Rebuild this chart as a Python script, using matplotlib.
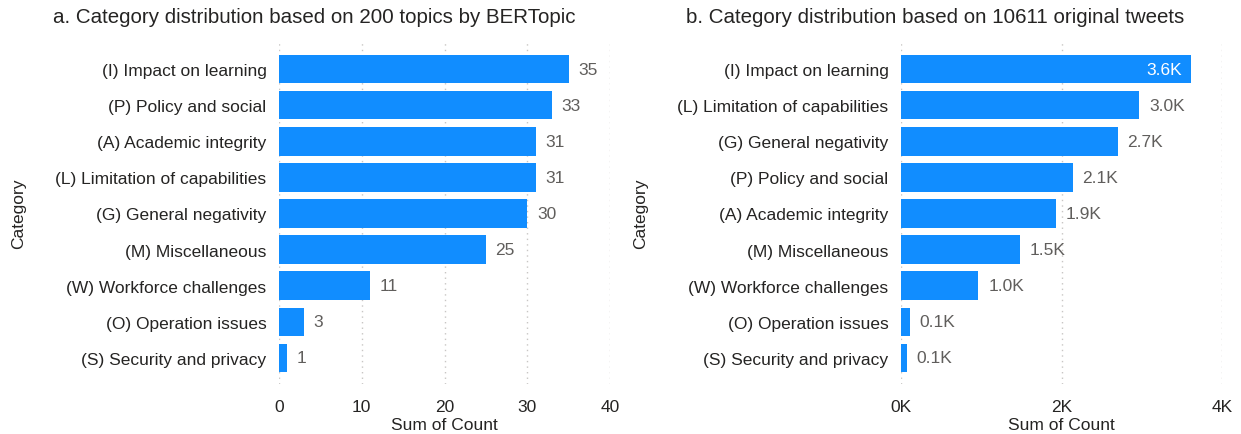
import matplotlib.pyplot as plt

plt.rcParams['font.family'] = ['Liberation Sans', 'DejaVu Sans']

# panel a: topics by BERTopic
cats_a = ['(I) Impact on learning', '(P) Policy and social', '(A) Academic integrity',
          '(L) Limitation of capabilities', '(G) General negativity', '(M) Miscellaneous',
          '(W) Workforce challenges', '(O) Operation issues', '(S) Security and privacy']
vals_a = [35, 33, 31, 31, 30, 25, 11, 3, 1]

# panel b: original tweets
cats_b = ['(I) Impact on learning', '(L) Limitation of capabilities', '(G) General negativity',
          '(P) Policy and social', '(A) Academic integrity', '(M) Miscellaneous',
          '(W) Workforce challenges', '(O) Operation issues', '(S) Security and privacy']
vals_b = [3610, 2970, 2700, 2140, 1930, 1480, 965, 110, 70]

bar_color = '#118DFF'
text_dark = '#252423'
text_gray = '#605E5C'
fs = 12.5

fig = plt.figure(figsize=(12.41, 4.35), dpi=100)
ax1 = fig.add_axes([279 / 1241, 0.115, 331 / 1241, 0.7885])
ax2 = fig.add_axes([901 / 1241, 0.115, 321 / 1241, 0.7885])


def k_fmt(v):
    return f'{v / 1000:.1f}K'


def draw(ax, cats, vals, xmax, ticks, ticklabels, labels, title, inside_first=False):
    pos = list(range(len(cats)))
    ax.barh(pos, vals, height=0.79, color=bar_color, zorder=2)
    ax.set_ylim(8.72, -0.776)
    ax.set_xlim(0, xmax)
    ax.set_yticks(pos)
    ax.set_yticklabels(cats, fontsize=fs, color=text_dark)
    ax.set_xticks(ticks)
    ax.set_xticklabels(ticklabels, fontsize=fs, color=text_dark)
    ax.tick_params(length=0)
    ax.tick_params(axis='x', pad=11)
    ax.tick_params(axis='y', pad=9)
    for s in ax.spines.values():
        s.set_visible(False)
    ax.grid(axis='x', linestyle=(0, (1, 3)), color='#C8C6C4', linewidth=1, zorder=0)
    for i, (v, lab) in enumerate(zip(vals, labels)):
        if inside_first and i == 0:
            ax.annotate(lab, (v, i), xytext=(-6, 0), textcoords='offset points',
                        ha='right', va='center', fontsize=fs, color='white')
        else:
            ax.annotate(lab, (v, i), xytext=(7, 0), textcoords='offset points',
                        ha='left', va='center', fontsize=fs, color=text_gray)
    ax.set_xlabel('Sum of Count', fontsize=fs, color=text_dark, labelpad=2)
    ax.set_ylabel('Category', fontsize=fs, color=text_dark)
    ax.set_title(title, fontsize=14.8, color=text_dark, pad=14)
    ax.title.set_position((0.107, 1.0))


draw(ax1, cats_a, vals_a, 40, [0, 10, 20, 30, 40], ['0', '10', '20', '30', '40'],
     [str(v) for v in vals_a], 'a. Category distribution based on 200 topics by BERTopic')
draw(ax2, cats_b, vals_b, 4000, [0, 2000, 4000], ['0K', '2K', '4K'],
     [k_fmt(v) for v in vals_b], 'b. Category distribution based on 10611 original tweets',
     inside_first=True)

ax1.yaxis.set_label_coords(-0.765, 0.5)
ax2.yaxis.set_label_coords(-0.788, 0.5)

fig.savefig('out.png', dpi=100)
